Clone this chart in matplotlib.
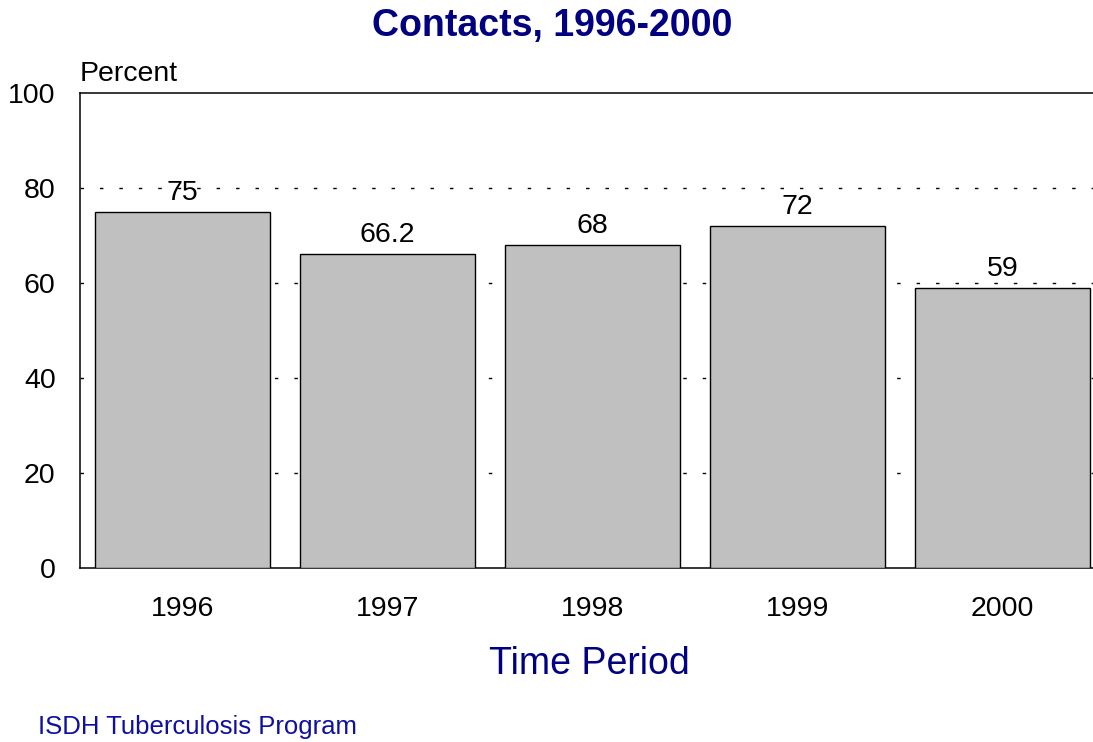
import numpy as np
import matplotlib.pyplot as plt

plt.rcParams['font.family'] = ['Liberation Sans', 'DejaVu Sans']

years = ['1996', '1997', '1998', '1999', '2000']
percent = [75, 66.2, 68, 72, 59]
value_labels = ['75', '66.2', '68', '72', '59']
yticks = [0, 20, 40, 60, 80, 100]

fig = plt.figure(figsize=(10.93, 7.42), dpi=100)
ax = fig.add_axes([80 / 1093, 174 / 742, 1025 / 1093, 475 / 742])

x = np.arange(len(years))
bars = ax.bar(x, percent, width=0.85, color='#c0c0c0', edgecolor='black',
              linewidth=1.0, zorder=3)

for xi, v, lab in zip(x, percent, value_labels):
    ax.annotate(lab, (xi, v), xytext=(0, 4), textcoords='offset points',
                ha='center', va='bottom', fontsize=20.5, zorder=4)

ax.set_xlim(-0.5, len(years) - 0.5)
ax.set_ylim(0, 100)
ax.set_yticks(yticks)
ax.set_xticks(x)
ax.set_xticklabels(years)
ax.tick_params(axis='y', length=0, pad=17.5, labelsize=20.5)
ax.tick_params(axis='x', length=0, pad=20, labelsize=20.5)

# dashed reference lines behind the bars
for yv in yticks[1:-1]:
    ax.axhline(yv, color='black', linewidth=1.0, linestyle=(0, (2.5, 11.5)), zorder=1)

for side in ['top', 'left', 'bottom']:
    ax.spines[side].set_linewidth(1.1)
ax.spines['right'].set_visible(False)

ax.text(0.0, 1.012, 'Percent', transform=ax.transAxes, ha='left', va='bottom',
        fontsize=20.5)

fig.text(552 / 1093, 1 - 26 / 742, 'Contacts, 1996-2000', ha='center', va='center',
         fontsize=27, fontweight='bold', color='#000080')
fig.text(589 / 1093, 1 - 664 / 742, 'Time Period', ha='center', va='center',
         fontsize=27, color='#000080')
fig.text(38 / 1093, 1 - 727 / 742, 'ISDH Tuberculosis Program', ha='left', va='center',
         fontsize=18.5, color='#1010a0')

fig.savefig('out.png', dpi=100)
